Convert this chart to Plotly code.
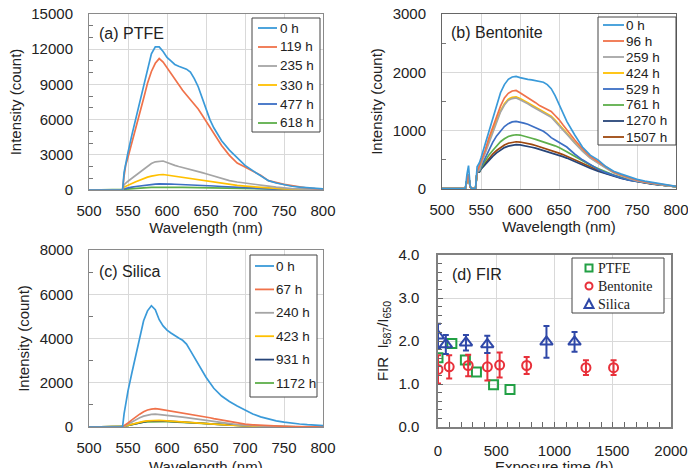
import plotly.graph_objects as go

# ---------------- data ----------------
wl_a = [500, 520, 535, 540, 543, 545, 547, 550, 555, 560, 565, 570, 575, 580, 585, 590, 595, 600, 605, 610,
        615, 620, 625, 630, 635, 640, 645, 650, 655, 660, 670, 680, 690, 700, 710, 720, 730, 740, 750, 760,
        770, 780, 790, 800]
ptfe_labels = ["0 h", "119 h", "235 h", "330 h", "477 h", "618 h"]
ptfe_0 = [0, 0, 0, 0, 0, 1500, 2300, 3200, 4700, 6100, 7600, 9000, 10400, 11600, 12200, 12200, 11800, 11300,
          11000, 10700, 10550, 10450, 10300, 10050, 9500, 8800, 7900, 7000, 6000, 5300, 4200, 3400, 2750, 2100,
          1650, 1200, 800, 600, 450, 320, 240, 170, 120, 90]
ptfe_119 = [0, 0, 0, 0, 0, 1200, 2100, 2800, 4000, 5300, 6400, 7800, 9100, 10100, 10800, 11200, 10900, 10400,
            10000, 9400, 8900, 8500, 8100, 7700, 7300, 6900, 6400, 5900, 5400, 4900, 3800, 2950, 2300, 1950,
            1600, 1250, 800, 620, 480, 380, 260, 170, 120, 90]
ptfe_235 = [0, 0, 0, 0, 0, 450, 600, 750, 1000, 1250, 1500, 1750, 2000, 2250, 2400, 2450, 2470, 2350, 2200, 2100,
            2000, 1920, 1850, 1750, 1650, 1580, 1480, 1380, 1280, 1180, 980, 800, 680, 580, 500, 420, 330, 250,
            170, 120, 90, 70, 50, 40]
ptfe_330 = [0, 0, 0, 0, 0, 250, 320, 400, 550, 700, 850, 980, 1100, 1180, 1250, 1300, 1320, 1270, 1220, 1180,
            1120, 1080, 1040, 990, 940, 890, 830, 770, 720, 660, 550, 470, 390, 330, 270, 220, 170, 130, 100, 70,
            50, 40, 30, 20]
ptfe_477 = [0, 0, 0, 0, 0, 100, 140, 180, 240, 300, 350, 400, 440, 470, 500, 520, 530, 520, 500, 490, 480, 470,
            460, 450, 430, 420, 400, 380, 360, 340, 300, 260, 220, 180, 150, 120, 90, 70, 50, 40, 30, 20, 15, 10]
ptfe_618 = [0, 0, 0, 0, 0, 50, 70, 90, 120, 150, 170, 190, 205, 220, 230, 240, 245, 245, 240, 235, 230, 225,
            220, 215, 210, 205, 200, 195, 190, 180, 165, 150, 130, 115, 100, 85, 70, 60, 50, 40, 30, 20, 15, 10]

wl_b = [500, 525, 530, 532, 534, 536, 538, 540, 543, 545, 548, 550, 555, 560, 565, 570, 575, 580, 585, 590,
        595, 600, 605, 610, 615, 620, 625, 630, 635, 640, 645, 650, 655, 660, 670, 680, 690, 700, 710, 720,
        730, 740, 750, 760, 770, 780, 790, 800]
bent_labels = ["0 h", "96 h", "259 h", "424 h", "529 h", "761 h", "1270 h", "1507 h"]
bent_0 = [5, 5, 10, 250, 400, 60, 5, 5, 5, 380, 450, 530, 750, 990, 1230, 1450, 1650, 1790, 1880, 1920, 1930,
          1910, 1890, 1880, 1870, 1860, 1850, 1830, 1790, 1720, 1600, 1450, 1310, 1160, 930, 720, 580, 500, 385,
          305, 255, 210, 165, 135, 110, 90, 65, 45]
bent_96 = [5, 5, 10, 150, 250, 40, 5, 5, 5, 300, 400, 470, 650, 870, 1060, 1250, 1420, 1560, 1640, 1680, 1690,
           1650, 1610, 1560, 1520, 1480, 1430, 1400, 1370, 1330, 1260, 1190, 1100, 1010, 845, 690, 560, 470, 380,
           290, 240, 190, 150, 120, 100, 80, 60, 45]
bent_259 = [5, 5, 10, 150, 250, 40, 5, 5, 5, 300, 330, 420, 600, 810, 990, 1170, 1320, 1440, 1520, 1550, 1560,
            1530, 1500, 1460, 1420, 1380, 1340, 1310, 1270, 1230, 1160, 1090, 1020, 940, 790, 650, 530, 440, 360,
            280, 225, 180, 140, 115, 95, 75, 55, 40]
bent_424 = [5, 5, 10, 150, 250, 40, 5, 5, 5, 300, 340, 430, 610, 820, 1010, 1190, 1340, 1460, 1540, 1570, 1580,
            1550, 1520, 1480, 1440, 1400, 1360, 1330, 1290, 1250, 1180, 1110, 1040, 960, 800, 660, 540, 450, 365,
            285, 230, 185, 145, 118, 97, 77, 57, 42]
bent_529 = [5, 5, 10, 150, 250, 40, 5, 5, 5, 300, 310, 380, 520, 680, 800, 910, 1000, 1070, 1120, 1150, 1160,
            1150, 1130, 1110, 1080, 1060, 1030, 990, 940, 880, 840, 800, 760, 720, 600, 500, 420, 340, 280, 230,
            190, 150, 125, 105, 88, 70, 55, 40]
bent_761 = [5, 5, 10, 150, 250, 40, 5, 5, 5, 300, 300, 360, 470, 580, 660, 740, 810, 860, 900, 920, 930, 925,
            910, 895, 870, 850, 830, 810, 790, 770, 740, 710, 680, 640, 560, 480, 410, 350, 290, 240, 200, 160,
            135, 110, 90, 70, 55, 40]
bent_1270 = [5, 5, 10, 150, 250, 40, 5, 5, 5, 300, 290, 340, 420, 500, 560, 620, 670, 710, 735, 750, 760, 755,
             745, 730, 715, 700, 680, 665, 645, 625, 600, 580, 555, 530, 470, 410, 355, 305, 260, 215, 180, 150,
             125, 105, 85, 68, 52, 38]
bent_1507 = [5, 5, 10, 150, 250, 40, 5, 5, 5, 300, 295, 350, 440, 530, 600, 660, 710, 755, 785, 800, 810, 805,
             795, 780, 765, 745, 725, 705, 685, 665, 640, 615, 590, 560, 495, 430, 370, 320, 272, 225, 188, 155,
             130, 108, 88, 70, 54, 39]

wl_c = wl_a
sil_labels = ["0 h", "67 h", "240 h", "423 h", "931 h", "1172 h"]
sil_0 = [0, 0, 0, 0, 0, 600, 1050, 1630, 2450, 3250, 4050, 4800, 5250, 5480, 5300, 4850, 4570, 4380, 4250, 4120,
         4020, 3920, 3750, 3450, 3150, 2850, 2500, 2250, 2000, 1750, 1400, 1150, 950, 770, 590, 460, 360, 280,
         220, 170, 135, 105, 80, 60]
sil_67 = [0, 0, 0, 0, 0, 60, 100, 180, 320, 460, 580, 690, 770, 810, 830, 810, 780, 750, 720, 700, 680, 660, 630,
          600, 570, 540, 500, 460, 420, 380, 310, 240, 180, 130, 100, 75, 55, 40, 30, 20, 15, 10, 5, 5]
sil_240 = [0, 0, 0, 0, 0, 40, 70, 130, 230, 330, 420, 490, 540, 570, 580, 565, 545, 525, 505, 485, 465, 445, 420,
           395, 370, 345, 315, 290, 260, 235, 185, 140, 105, 75, 55, 40, 30, 20, 15, 10, 5, 5, 0, 0]
sil_423 = [0, 0, 0, 0, 0, 30, 50, 80, 130, 180, 220, 255, 280, 295, 300, 295, 290, 280, 270, 260, 250, 240, 230,
           215, 200, 190, 175, 160, 145, 130, 105, 80, 60, 45, 35, 25, 18, 12, 8, 5, 3, 2, 0, 0]
sil_931 = [0, 0, 0, 0, 0, 30, 50, 75, 120, 165, 205, 240, 262, 275, 280, 278, 272, 265, 258, 250, 242, 234, 225,
           212, 200, 188, 175, 160, 147, 133, 108, 85, 65, 50, 38, 28, 20, 14, 10, 6, 4, 2, 0, 0]
sil_1172 = [0, 0, 0, 0, 0, 25, 45, 70, 110, 150, 185, 215, 235, 245, 250, 250, 245, 240, 235, 228, 220, 213, 205,
            195, 185, 175, 163, 150, 138, 125, 102, 80, 62, 48, 37, 28, 20, 14, 10, 7, 4, 2, 0, 0]

# FIR data
fir_labels = ["PTFE", "Bentonite", "Silica"]
fir_ptfe_t = [0, 119, 235, 330, 477, 618]
fir_ptfe = [1.61, 1.94, 1.56, 1.28, 0.98, 0.87]
fir_bent_t = [0, 96, 259, 424, 529, 761, 1270, 1507]
fir_bent = [1.34, 1.40, 1.43, 1.40, 1.44, 1.43, 1.38, 1.38]
fir_bent_err = [0.33, 0.27, 0.25, 0.32, 0.29, 0.20, 0.17, 0.17]
fir_sil_t = [0, 67, 240, 423, 931, 1172]
fir_sil = [2.12, 1.92, 1.96, 1.92, 1.98, 1.98]
fir_sil_err = [0.28, 0.22, 0.18, 0.20, 0.37, 0.23]

# ---------------- style ----------------
C_CYAN = "#3A9AD9"
C_ORANGE = "#F0724A"
C_GRAY = "#A5A5A5"
C_YELLOW = "#FFC000"
C_BLUE = "#3C6FC4"
C_GREEN = "#5DAE4A"
C_DBLUE = "#264478"
C_BROWN = "#9E480E"
D_GREEN, D_RED, D_BLUE = "#22A045", "#E8303A", "#2F48A8"

SANS = "Liberation Sans, Arial, sans-serif"
SERIF = "Liberation Serif, Times New Roman, serif"

W, H = 688, 468
def px_x(p): return p / W
def px_y(p): return 1 - p / H

fig = go.Figure()

cols_a = [C_CYAN, C_ORANGE, C_GRAY, C_YELLOW, C_BLUE, C_GREEN]
cols_b = [C_CYAN, C_ORANGE, C_GRAY, C_YELLOW, C_BLUE, C_GREEN, C_DBLUE, C_BROWN]
cols_c = [C_CYAN, C_ORANGE, C_GRAY, C_YELLOW, C_DBLUE, C_GREEN]

def add_spectra(wl, series, labels, colors, xa, ya):
    # later series first so the "0 h" curve is on top like the original
    for ys, lab, col in reversed(list(zip(series, labels, colors))):
        fig.add_trace(go.Scatter(x=wl, y=ys, mode="lines", name=lab,
                                 line=dict(color=col, width=1.7), xaxis=xa, yaxis=ya))

add_spectra(wl_a, [ptfe_0, ptfe_119, ptfe_235, ptfe_330, ptfe_477, ptfe_618], ptfe_labels, cols_a, "x", "y")
add_spectra(wl_b, [bent_0, bent_96, bent_259, bent_424, bent_529, bent_761, bent_1270, bent_1507], bent_labels,
            cols_b, "x2", "y2")
add_spectra(wl_c, [sil_0, sil_67, sil_240, sil_423, sil_931, sil_1172], sil_labels, cols_c, "x3", "y3")

fig.add_trace(go.Scatter(x=fir_ptfe_t, y=fir_ptfe, mode="markers", name="PTFE",
                         marker=dict(symbol="square-open", size=9, color=D_GREEN, line=dict(width=2)),
                         xaxis="x4", yaxis="y4"))
fig.add_trace(go.Scatter(x=fir_bent_t, y=fir_bent, mode="markers", name="Bentonite",
                         marker=dict(symbol="circle-open", size=9, color=D_RED, line=dict(width=2)),
                         error_y=dict(type="data", array=fir_bent_err, color=D_RED, thickness=2, width=3),
                         xaxis="x4", yaxis="y4"))
fig.add_trace(go.Scatter(x=fir_sil_t, y=fir_sil, mode="markers", name="Silica",
                         marker=dict(symbol="triangle-up-open", size=11, color=D_BLUE, line=dict(width=2)),
                         error_y=dict(type="data", array=fir_sil_err, color=D_BLUE, thickness=2, width=3),
                         xaxis="x4", yaxis="y4"))

tickfont = dict(family=SANS, size=15, color="#222")
titlefont = dict(family=SANS, size=15, color="#222")
grid = "#d9d9d9"
frame = "#8a8a8a"

def xaxis(dom, anchor, rng, dtick, title, **kw):
    d = dict(domain=dom, anchor=anchor, range=rng, dtick=dtick, tick0=0, showgrid=True, gridcolor=grid,
             gridwidth=1, showline=True, linecolor=frame, linewidth=1, mirror=True, zeroline=False,
             tickfont=tickfont, ticks="", ticklabelstandoff=7, automargin=False, ticklabeloverflow="allow",
             title=dict(text=title, font=titlefont, standoff=2))
    d.update(kw)
    return d

def yaxis(dom, anchor, rng, dtick, title, **kw):
    d = dict(domain=dom, anchor=anchor, range=rng, dtick=dtick, tick0=0, showgrid=True, gridcolor=grid,
             gridwidth=1, showline=True, linecolor=frame, linewidth=1, mirror=True, zeroline=False,
             tickfont=tickfont, ticks="", ticklabelstandoff=12, automargin=False, tickformat="d",
             ticklabeloverflow="allow", title=dict(text=title, font=titlefont, standoff=6))
    d.update(kw)
    return d

dom_xa = [px_x(89), px_x(323)]
dom_xb = [px_x(442), px_x(676)]
dom_xd = [px_x(438), px_x(671)]
dom_ya = [px_y(190), px_y(14)]
dom_yb = [px_y(189), px_y(14)]
dom_yc = [px_y(427), px_y(250)]
dom_yd = [px_y(427), px_y(255)]

def minor_in(dt):
    return dict(ticks="inside", ticklen=4, tickcolor="#777", dtick=dt, showgrid=False)

fig.update_layout(
    width=W, height=H, margin=dict(l=0, r=0, t=0, b=0),
    paper_bgcolor="white", plot_bgcolor="white", showlegend=False,
    xaxis=xaxis(dom_xa, "y", [500, 800], 50, "Wavelength (nm)"),
    yaxis=yaxis(dom_ya, "x", [0, 15000], 3000, "Intensity (count)", minor=minor_in(1000)),
    xaxis2=xaxis(dom_xb, "y2", [500, 800], 50, "Wavelength (nm)", linecolor="#666"),
    yaxis2=yaxis(dom_yb, "x2", [0, 3000], 1000, "Intensity (count)", minor=minor_in(500), linecolor="#666"),
    xaxis3=xaxis(dom_xa, "y3", [500, 800], 50, ""),
    yaxis3=yaxis(dom_yc, "x3", [0, 8000], 2000, "Intensity (count)", minor=minor_in(1000)),
    xaxis4=xaxis(dom_xd, "y4", [0, 2000], 500, "", linecolor="#808080", linewidth=1.5,
                 ticks="inside", ticklen=5, tickcolor="#666", ticklabelstandoff=9,
                 minor=dict(ticks="inside", ticklen=5, tickcolor="#666", dtick=100, showgrid=False)),
    yaxis4=yaxis(dom_yd, "x4", [0, 4.0], 1.0, "FIR  I<sub>587</sub>/I<sub>650</sub>", linecolor="#808080",
                 linewidth=1.5, tickformat=".1f", ticks="inside", ticklen=5, tickcolor="#666",
                 ticklabelstandoff=14,
                 minor=dict(ticks="inside", ticklen=4, tickcolor="#666", dtick=0.2, showgrid=False)),
)

# bottom-row x-axis titles (they run off the lower edge in the original)
for text, xc in [("Wavelength (nm)", 206), ("Exposure time (h)", 554)]:
    fig.add_annotation(text=text, x=px_x(xc), y=px_y(456), xref="paper", yref="paper", xanchor="center",
                       yanchor="top", showarrow=False, font=titlefont)

annots = [("(a) PTFE", 97, 34), ("(b) Bentonite", 449, 33), ("(c) Silica", 97, 271), ("(d) FIR", 450, 274)]
for text, xp, yp in annots:
    fig.add_annotation(text=text, x=px_x(xp), y=px_y(yp), xref="paper", yref="paper", xanchor="left",
                       yanchor="middle", showarrow=False, font=dict(family=SANS, size=16, color="#222"))

# ---------------- legends (boxed, like the original) ----------------
def legend_box(x0, y0, x1, y1):
    fig.add_shape(type="rect", xref="paper", yref="paper", x0=px_x(x0), x1=px_x(x1), y0=px_y(y1), y1=px_y(y0),
                  fillcolor="white", line=dict(color="#444", width=1), layer="above")

def line_legend(labels, colors, box, first_y, step, lx0, lx1, tx):
    legend_box(*box)
    for i, (lab, col) in enumerate(zip(labels, colors)):
        yy = first_y + i * step
        fig.add_shape(type="line", xref="paper", yref="paper", x0=px_x(lx0), x1=px_x(lx1), y0=px_y(yy),
                      y1=px_y(yy), line=dict(color=col, width=1.8), layer="above")
        fig.add_annotation(text=lab, x=px_x(tx), y=px_y(yy), xref="paper", yref="paper", xanchor="left",
                           yanchor="middle", showarrow=False, font=dict(family=SANS, size=13.5, color="#222"))

line_legend(ptfe_labels, cols_a, (252, 18, 320, 132), 28, 19, 258, 277, 278)
line_legend(bent_labels, cols_b, (598, 17, 676, 145), 25, 16, 603, 624, 624)
line_legend(sil_labels, cols_c, (250, 255, 317, 397), 266, 23.4, 255, 274, 274)

# FIR legend with open markers
legend_box(572, 258, 664, 313)
d_cols = [D_GREEN, D_RED, D_BLUE]
for i, (lab, col) in enumerate(zip(fir_labels, d_cols)):
    yy = 268 + i * 18
    cx = 589
    if i == 0:
        fig.add_shape(type="rect", xref="paper", yref="paper", x0=px_x(cx - 3.5), x1=px_x(cx + 3.5),
                      y0=px_y(yy + 3.5), y1=px_y(yy - 3.5), line=dict(color=col, width=2), layer="above")
    elif i == 1:
        fig.add_shape(type="circle", xref="paper", yref="paper", x0=px_x(cx - 3.5), x1=px_x(cx + 3.5),
                      y0=px_y(yy + 3.5), y1=px_y(yy - 3.5), line=dict(color=col, width=2), layer="above")
    else:
        path = "M {} {} L {} {} L {} {} Z".format(px_x(cx - 4.5), px_y(yy + 4), px_x(cx + 4.5), px_y(yy + 4),
                                                  px_x(cx), px_y(yy - 4.5))
        fig.add_shape(type="path", xref="paper", yref="paper", path=path, line=dict(color=col, width=2),
                      layer="above")
    fig.add_annotation(text=lab, x=px_x(596), y=px_y(yy), xref="paper", yref="paper", xanchor="left",
                       yanchor="middle", showarrow=False, font=dict(family=SERIF, size=14, color="#222"))

fig.write_html("out.html", config={"displayModeBar": False},
               post_script="document.body.style.margin='0px';")
